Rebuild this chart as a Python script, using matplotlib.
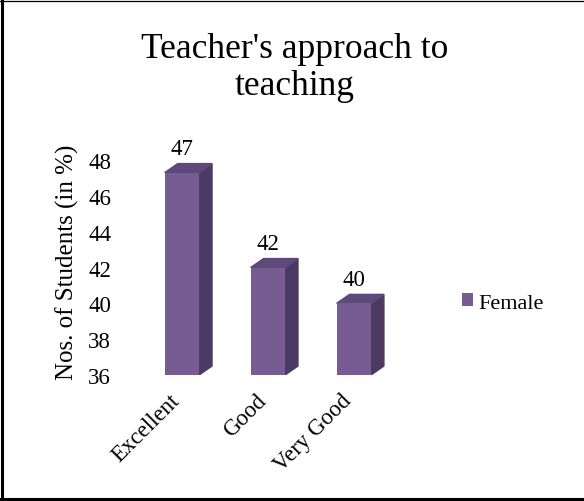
import numpy as np
import matplotlib.pyplot as plt
from matplotlib.patches import Polygon
from matplotlib.lines import Line2D

plt.rcParams['font.family'] = 'Liberation Serif'

categories = ['Excellent', 'Good', 'Very Good']
values = [47.3, 42, 40]
series_name = 'Female'
yticks = [36, 38, 40, 42, 44, 46, 48]

front = '#775C93'
top_c = '#5E4A7A'
side_c = '#4B3A62'

W, H = 584, 502
fig = plt.figure(figsize=(W / 100, H / 100), dpi=100)
ax = fig.add_axes([118 / W, 1 - 376 / H, 302 / W, 215 / H])

x = np.arange(len(categories))
w = 0.4
dx, dy = 0.15, 0.5
ymin = yticks[0]

bars = ax.bar(x, np.array(values) - ymin, bottom=ymin, width=w, color=front, label=series_name, zorder=3)
for xi, v in zip(x, values):
    r = xi + w / 2
    l = xi - w / 2
    ax.add_patch(Polygon([(r, ymin), (r + dx, ymin + dy), (r + dx, v + dy), (r, v)],
                         closed=True, color=side_c, zorder=2))
    ax.add_patch(Polygon([(l, v), (l + dx, v + dy), (r + dx, v + dy), (r, v)],
                         closed=True, color=top_c, zorder=2))
    ax.annotate('%.0f' % v, (xi, v + dy), xytext=(0, 3), textcoords='offset points',
                ha='center', va='bottom', fontsize=16.5)

ax.set_xlim(-0.744, 2.77)
ax.set_ylim(yticks[0], yticks[-1])
ax.set_yticks(yticks)
ax.set_xticks(x - 0.06)
ax.set_xticklabels(categories, rotation=45, ha='right', va='center', rotation_mode='anchor')
ax.tick_params(axis='both', length=0, labelsize=16.5)
ax.tick_params(axis='y', pad=5)
ax.tick_params(axis='x', pad=16)
for s in ax.spines.values():
    s.set_visible(False)
ax.patch.set_alpha(0)

fig.text(67 / W, 1 - 262 / H, 'Nos. of Students (in %)', rotation=90, ha='center', va='center', fontsize=18)
fig.text(295 / W, 1 - 68 / H, "Teacher's approach to\nteaching", ha='center', va='center',
         fontsize=25.5, linespacing=1.15)

fig.legend(handles=[bars], loc='center left', bbox_to_anchor=(462 / W, 1 - 304 / H), frameon=False,
           fontsize=16, handlelength=0.5, handleheight=0.5, handletextpad=0.25, borderaxespad=0, borderpad=0)

# outer border like the pasted chart frame
fig.add_artist(Line2D([2 / W, 2 / W], [0, 1], color='black', lw=2.2))
fig.add_artist(Line2D([0, 1], [1 - 1.5 / H, 1 - 1.5 / H], color='black', lw=0.9))
fig.add_artist(Line2D([0, 1], [1 - 500 / H, 1 - 500 / H], color='black', lw=2.2))

fig.savefig('out.png', dpi=100)
